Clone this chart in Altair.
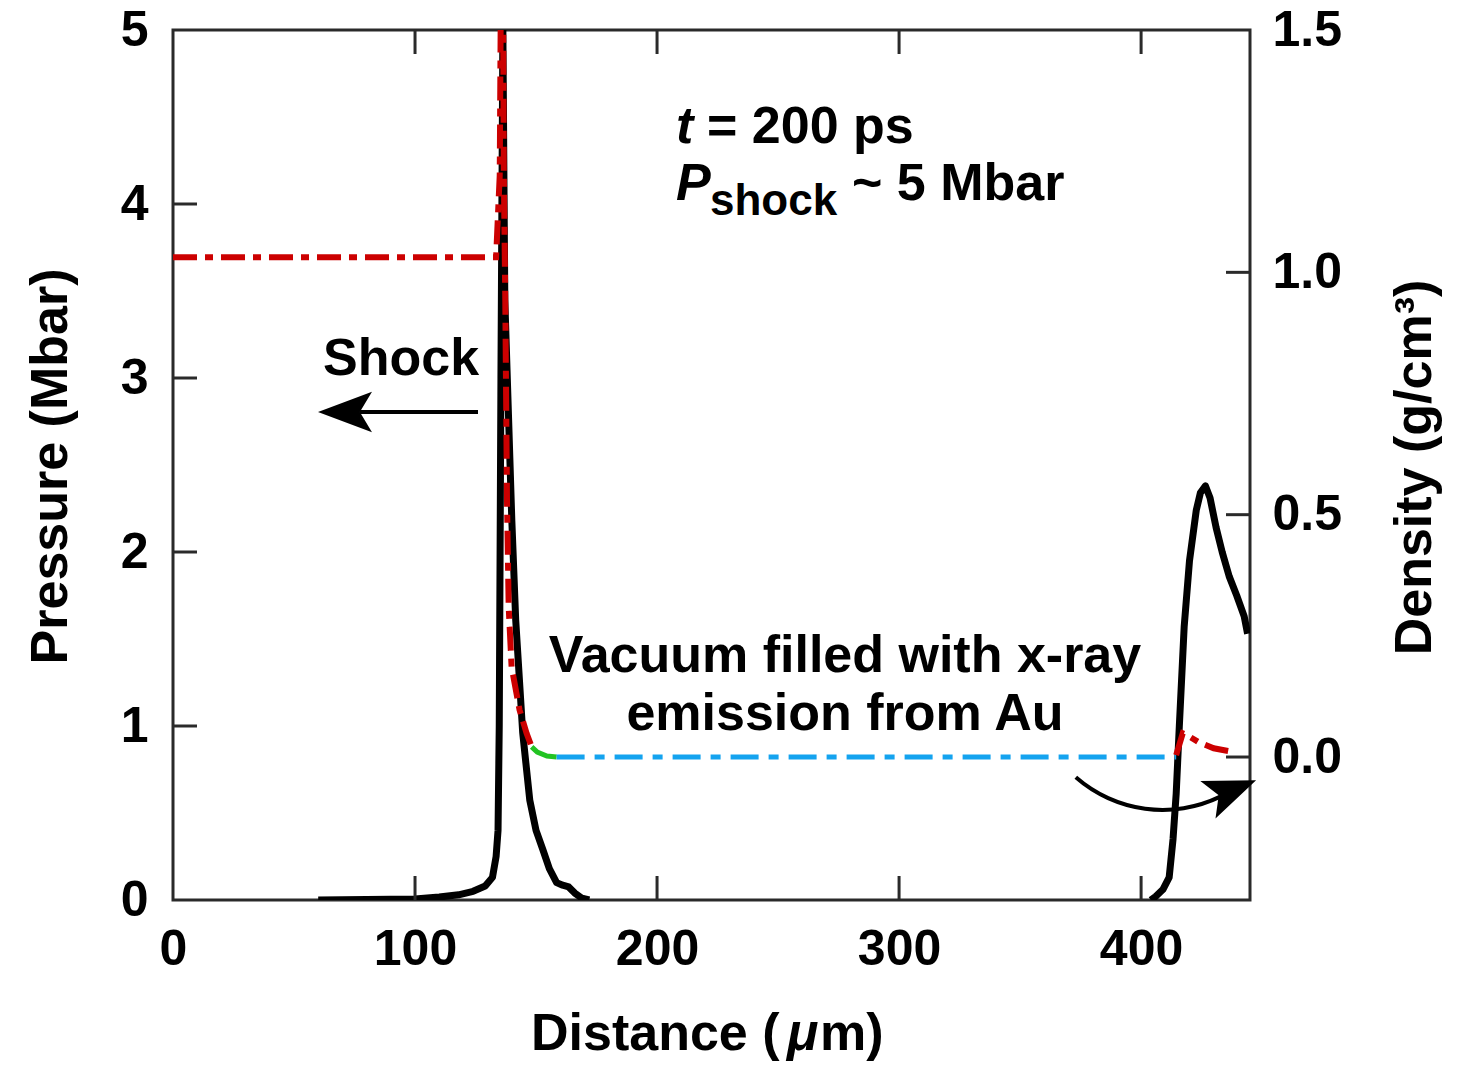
import altair as alt
import pandas as pd

# ---------------- data ----------------
# Pressure (Mbar) – black curve, left axis
press_left_x = [60, 80, 100, 110, 118, 124, 129, 132, 133.5, 134.3, 134.8, 135.5, 136.3,
                137.1, 140.0, 141.6, 144.5, 147.4, 150.0, 152.8, 155.5, 158.5, 161.0,
                163.5, 166.0, 169.0, 172.0]
press_left_y = [0.0, 0.003, 0.006, 0.017, 0.03, 0.05, 0.08, 0.13, 0.25, 0.4, 1.0, 3.0, 5.0,
                3.45, 2.18, 1.61, 0.96, 0.575, 0.40, 0.29, 0.18, 0.10, 0.085,
                0.075, 0.04, 0.01, 0.0]
press_right_x = [404, 406, 409, 411.6, 413.2, 414.5, 415.8, 417.8, 420.0, 422.8, 424.5,
                 426.6, 428.5, 431.0, 433.5, 436.4, 439.5, 442.6, 444.0]
press_right_y = [0.0, 0.02, 0.06, 0.13, 0.35, 0.61, 1.0, 1.57, 1.95, 2.24, 2.34,
                 2.38, 2.31, 2.14, 2.0, 1.86, 1.75, 1.63, 1.53]

# Density (g/cm^3) – right axis
red1_x = [0, 133.5, 135.0, 136.0, 136.7, 137.3, 138.0, 138.7, 139.9, 143.2, 146.1, 148.2]
red1_y = [1.031, 1.031, 1.2, 2.0, 1.2, 0.94, 0.53, 0.31, 0.186, 0.097, 0.049, 0.021]
green_x = [148.2, 150.5, 154.5, 158.5]
green_y = [0.021, 0.010, 0.002, 0.0]
blue_x = [158.5, 414.5]
blue_y = [0.0, 0.0]
red2_x = [414.5, 417.2, 419.0, 424.0, 430.0, 438.5]
red2_y = [0.004, 0.049, 0.045, 0.030, 0.018, 0.010]

x_ticks = [0, 100, 200, 300, 400]
x_inner_ticks = [100, 200, 300, 400]
p_ticks = [0, 1, 2, 3, 4, 5]
p_inner_ticks = [1, 2, 3, 4]
d_ticks = [0.0, 0.5, 1.0, 1.5]
d_inner_ticks = [0.0, 0.5, 1.0]

# ---------------- settings ----------------
FONT = "Liberation Sans"
W, H = 1077, 870
X_DOM = [0, 445]
P_DOM = [0, 5]
D_DOM = [-0.295, 1.5]
FRAME = "#2a2a2a"

xs = alt.Scale(domain=X_DOM, nice=False, zero=False)
ps = alt.Scale(domain=P_DOM, nice=False, zero=False)
ds = alt.Scale(domain=D_DOM, nice=False, zero=False)


def series(xv, yv, name, col):
    return pd.DataFrame({"x": xv, col: yv, "seg": name, "i": range(len(xv))})


press_df = pd.concat([series(press_left_x, press_left_y, "a", "p"),
                      series(press_right_x, press_right_y, "b", "p")])

one = pd.DataFrame({"a": [0]})

x_axis = alt.Axis(values=x_ticks, format="d", title=None,
                  labelFont=FONT, labelFontSize=50, labelFontWeight="bold", labelColor="black",
                  labelPadding=24, ticks=False, domain=False, grid=False,
                  labelOverlap=False, labelFlush=False)

p_axis = alt.Axis(values=p_ticks, format="d", title="Pressure (Mbar)", orient="left",
                  labelFont=FONT, labelFontSize=50, labelFontWeight="bold", labelColor="black",
                  labelPadding=25, ticks=False, domain=False, grid=False,
                  labelOverlap=False, labelFlush=False,
                  titleFont=FONT, titleFontSize=52, titleFontWeight="bold", titleColor="black",
                  titleAngle=270, titleX=-107, titleY=436, titleAlign="center",
                  titleBaseline="alphabetic")

d_axis = alt.Axis(values=d_ticks, format=".1f", title="Density (g/cm³)", orient="right",
                  labelFont=FONT, labelFontSize=50, labelFontWeight="bold", labelColor="black",
                  labelPadding=22, ticks=False, domain=False, grid=False,
                  labelOverlap=False, labelFlush=False,
                  titleFont=FONT, titleFontSize=52, titleFontWeight="bold", titleColor="black",
                  titleAngle=270, titleX=180, titleY=437, titleAlign="center",
                  titleBaseline="alphabetic")


def X(field):
    return alt.X(field, scale=xs, axis=x_axis)


# ---------------- pressure marks ----------------
black = alt.Chart(press_df).mark_line(color="black", strokeWidth=7, clip=True,
                                      strokeJoin="round").encode(
    x=X("x:Q"),
    y=alt.Y("p:Q", scale=ps, axis=p_axis),
    detail="seg:N",
    order="i:Q",
)

tick_style = dict(color=FRAME, strokeWidth=3)
xt_df = pd.DataFrame({"x": x_inner_ticks})
bottom_ticks = alt.Chart(xt_df).mark_rule(**tick_style).encode(
    x=X("x:Q"), y=alt.value(H - 24), y2=alt.value(H))
top_ticks = alt.Chart(xt_df).mark_rule(**tick_style).encode(
    x=X("x:Q"), y=alt.value(0), y2=alt.value(24))
left_ticks = alt.Chart(pd.DataFrame({"t": p_inner_ticks})).mark_rule(**tick_style).encode(
    y=alt.Y("t:Q", scale=ps, axis=None), x=alt.value(0), x2=alt.value(24))


def txt(s, x, y, size=52, style="normal", align="left"):
    return alt.Chart(one).mark_text(text=s, font=FONT, fontSize=size, fontWeight="bold",
                                    fontStyle=style, align=align, baseline="alphabetic",
                                    color="black").encode(x=alt.value(x), y=alt.value(y))


annotations = [
    txt("t", 503, 113, style="italic"),
    txt("= 200 ps", 534, 113),
    txt("P", 503, 170, style="italic"),
    txt("shock", 537, 185, size=44),
    txt("~ 5 Mbar", 679, 170),
    txt("Shock", 150, 345),
    txt("Vacuum filled with x-ray", 672, 642, align="center"),
    txt("emission from Au", 672, 700, align="center"),
    # x-axis title with italic mu
    txt("Distance (", 358, 1020),
    txt("μ", 614, 1020, style="italic"),
    txt("m)", 647, 1020),
]

shock_shaft = alt.Chart(one).mark_rule(color="black", strokeWidth=4).encode(
    x=alt.value(305), x2=alt.value(187), y=alt.value(382))
shock_head = alt.Chart(one).mark_point(
    shape="M -1 0 L 1 -0.75 L 0.55 0 L 1 0.75 Z", size=2916, filled=True,
    color="black", opacity=1).encode(x=alt.value(172), y=alt.value(382))

curve = alt.Chart(one).mark_arc(theta=2.69, theta2=3.86, radius=134, radius2=130,
                                color="black").encode(x=alt.value(989.7), y=alt.value(647.9))
curve_head = alt.Chart(one).mark_point(
    shape="M 1 0 L -1 -0.78 L -0.55 0 L -1 0.78 Z", size=2704, filled=True,
    color="black", opacity=1, angle=338).encode(x=alt.value(1059), y=alt.value(760))

# ---------------- density marks ----------------
dash = [24, 8, 8, 8]
red1 = alt.Chart(series(red1_x, red1_y, "r1", "d")).mark_line(
    color="#cc0000", strokeWidth=6, strokeDash=dash, clip=True).encode(
    x=X("x:Q"), y=alt.Y("d:Q", scale=ds, axis=d_axis), order="i:Q")
green = alt.Chart(series(green_x, green_y, "g", "d")).mark_line(
    color="#22c322", strokeWidth=5, clip=True).encode(
    x=X("x:Q"), y=alt.Y("d:Q", scale=ds, axis=None), order="i:Q")
blue = alt.Chart(series(blue_x, blue_y, "b", "d")).mark_line(
    color="#14a3ef", strokeWidth=5, strokeDash=[28, 10, 10, 10], clip=True).encode(
    x=X("x:Q"), y=alt.Y("d:Q", scale=ds, axis=None), order="i:Q")
red2 = alt.Chart(series(red2_x, red2_y, "r2", "d")).mark_line(
    color="#cc0000", strokeWidth=6, strokeDash=dash, clip=True).encode(
    x=X("x:Q"), y=alt.Y("d:Q", scale=ds, axis=None), order="i:Q")
right_ticks = alt.Chart(pd.DataFrame({"t": d_inner_ticks})).mark_rule(**tick_style).encode(
    y=alt.Y("t:Q", scale=ds, axis=None), x=alt.value(W - 24), x2=alt.value(W))

chart = alt.layer(
    black, red1, green, blue, red2,
    bottom_ticks, top_ticks, left_ticks, right_ticks,
    *annotations, shock_shaft, shock_head, curve, curve_head,
).resolve_scale(y="independent").properties(
    width=W, height=H, autosize="none",
    padding={"left": 173, "top": 30, "right": 210, "bottom": 165},
    background="white",
).configure(font=FONT).configure_view(stroke=FRAME, strokeWidth=3)

chart.save("out.html", embed_options={"renderer": "svg", "actions": False})
